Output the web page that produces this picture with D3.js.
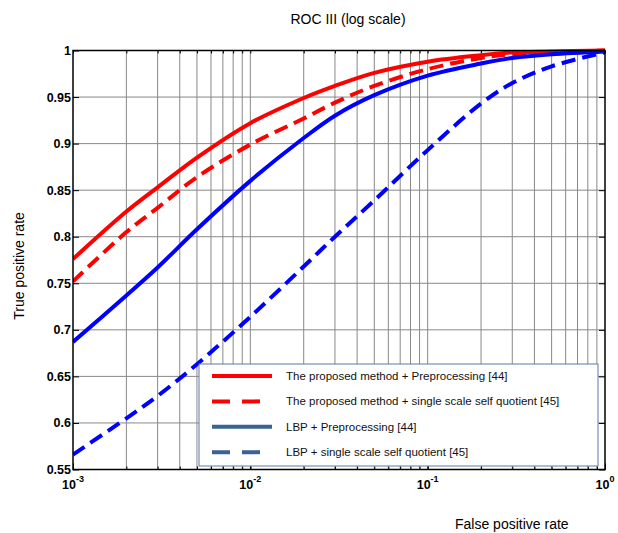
<!DOCTYPE html>
<html>
<head>
<meta charset="utf-8">
<script src="https://cdnjs.cloudflare.com/ajax/libs/d3/7.8.5/d3.min.js"></script>
<style>
  body { margin: 0; background: #fff; }
  svg { font-family: "Liberation Sans", Arial, sans-serif; }
</style>
</head>
<body>
<div id="chart"></div>
<script>
// false positive rate sample points (log axis)
var fpr = [0.001, 0.002, 0.003, 0.005, 0.01, 0.02, 0.03, 0.05, 0.1, 0.2, 0.3, 0.5, 1];
// true positive rate for each method
var proposedPre = [0.776, 0.827, 0.853, 0.885, 0.922, 0.949, 0.962, 0.976, 0.988, 0.995, 0.998, 0.999, 1.0];
var proposedSQ  = [0.752, 0.805, 0.831, 0.864, 0.899, 0.927, 0.944, 0.962, 0.980, 0.992, 0.996, 0.998, 1.0];
var lbpPre      = [0.687, 0.737, 0.767, 0.808, 0.860, 0.906, 0.930, 0.952, 0.973, 0.986, 0.992, 0.996, 0.999];
var lbpSQ       = [0.566, 0.605, 0.629, 0.663, 0.714, 0.768, 0.800, 0.839, 0.893, 0.943, 0.965, 0.983, 0.998];

var seriesNames = [
  "The proposed method + Preprocessing [44]",
  "The proposed method + single scale self quotient [45]",
  "LBP + Preprocessing [44]",
  "LBP + single scale self quotient [45]"
];
var yTicks = [0.55, 0.6, 0.65, 0.7, 0.75, 0.8, 0.85, 0.9, 0.95, 1];
var yTickLabels = ["0.55", "0.6", "0.65", "0.7", "0.75", "0.8", "0.85", "0.9", "0.95", "1"];
var xDecades = [0.001, 0.01, 0.1, 1];
var xDecadeExp = ["-3", "-2", "-1", "0"];

function drawChart() {
  var svgWidth = 618, svgHeight = 533;
  var margin = { left: 73, right: 605, top: 50.5, bottom: 469.5 };

  var svg = d3.select("#chart").append("svg")
    .attr("width", svgWidth)
    .attr("height", svgHeight);

  var x = d3.scaleLog().domain([0.001, 1]).range([margin.left, margin.right]);
  var y = d3.scaleLinear().domain([0.55, 1]).range([margin.bottom, margin.top]);

  // minor ticks 1..9 per decade
  var minorTicks = [];
  [0.001, 0.01, 0.1].forEach(function(d) {
    for (var k = 1; k < 10; k++) minorTicks.push(d * k);
  });
  minorTicks.push(1);

  // grid
  var grid = svg.append("g");
  grid.selectAll("line.vg").data(minorTicks.slice(1, -1)).enter().append("line")
    .attr("x1", d => x(d)).attr("x2", d => x(d))
    .attr("y1", margin.top).attr("y2", margin.bottom)
    .attr("stroke", "#888").attr("stroke-width", 1);
  grid.selectAll("line.hg").data(yTicks.slice(1, -1)).enter().append("line")
    .attr("x1", margin.left).attr("x2", margin.right)
    .attr("y1", d => y(d)).attr("y2", d => y(d))
    .attr("stroke", "#888").attr("stroke-width", 1);

  // axes with inward ticks
  function styleAxis(g) {
    g.select(".domain").remove();
    g.selectAll("line").attr("stroke", "#000");
    g.selectAll("text").remove();
  }
  svg.append("g").attr("transform", "translate(0," + margin.bottom + ")")
    .call(d3.axisBottom(x).tickValues(minorTicks).tickSize(-3).tickFormat(""))
    .call(styleAxis);
  svg.append("g").attr("transform", "translate(0," + margin.bottom + ")")
    .call(d3.axisBottom(x).tickValues(xDecades).tickSize(-6).tickFormat(""))
    .call(styleAxis);
  svg.append("g").attr("transform", "translate(0," + margin.top + ")")
    .call(d3.axisTop(x).tickValues(minorTicks).tickSize(-3).tickFormat(""))
    .call(styleAxis);
  svg.append("g").attr("transform", "translate(" + margin.left + ",0)")
    .call(d3.axisLeft(y).tickValues(yTicks).tickSize(-6).tickFormat(""))
    .call(styleAxis);
  svg.append("g").attr("transform", "translate(" + margin.right + ",0)")
    .call(d3.axisRight(y).tickValues(yTicks).tickSize(-6).tickFormat(""))
    .call(styleAxis);

  // lines
  svg.append("clipPath").attr("id", "clip").append("rect")
    .attr("x", margin.left).attr("y", margin.top - 3)
    .attr("width", margin.right - margin.left).attr("height", margin.bottom - margin.top + 3);

  var line = d3.line()
    .x(d => x(d[0]))
    .y(d => y(d[1]))
    .curve(d3.curveCatmullRom.alpha(0.5));

  var series = [
    { values: proposedPre, color: "#ff0000", dash: null },
    { values: proposedSQ,  color: "#ff0000", dash: "14,7" },
    { values: lbpPre,      color: "#0000ff", dash: null },
    { values: lbpSQ,       color: "#0000ff", dash: "14,7" }
  ];

  svg.append("g").attr("clip-path", "url(#clip)")
    .selectAll("path").data(series).enter().append("path")
    .attr("d", s => line(fpr.map((f, i) => [f, s.values[i]])))
    .attr("fill", "none")
    .attr("stroke", s => s.color)
    .attr("stroke-width", 4)
    .attr("stroke-dasharray", s => s.dash);

  // frame
  svg.append("rect")
    .attr("x", margin.left).attr("y", margin.top)
    .attr("width", margin.right - margin.left).attr("height", margin.bottom - margin.top)
    .attr("fill", "none").attr("stroke", "#000").attr("stroke-width", 1.5);

  // tick labels
  svg.selectAll("text.ylab").data(yTicks).enter().append("text")
    .attr("x", margin.left - 2).attr("y", d => y(d) + 4.5)
    .attr("text-anchor", "end")
    .attr("font-size", 12.5).attr("font-weight", "bold")
    .text((d, i) => yTickLabels[i]);

  var xl = svg.selectAll("text.xlab").data(xDecades).enter().append("text")
    .attr("x", d => x(d)).attr("y", 489)
    .attr("text-anchor", "middle")
    .attr("font-size", 12.5).attr("font-weight", "bold");
  xl.append("tspan").text("10");
  xl.append("tspan").attr("dy", -7).attr("font-size", 9).text((d, i) => xDecadeExp[i]);

  // legend
  var legend = svg.append("g");
  legend.append("rect")
    .attr("x", 199).attr("y", 364).attr("width", 399).attr("height", 102)
    .attr("fill", "#fff").attr("stroke", "#5b7aa6").attr("stroke-width", 1);
  var legendColors = ["#ff0000", "#ff0000", "#3d6096", "#3d6096"];
  var legendDash = [null, "18,12", null, "18,12"];
  var rows = legend.selectAll("g.row").data(seriesNames).enter().append("g")
    .attr("transform", (d, i) => "translate(0," + (376 + i * 25.4) + ")");
  rows.append("line")
    .attr("x1", 212).attr("x2", 272)
    .attr("stroke", (d, i) => legendColors[i])
    .attr("stroke-width", 4)
    .attr("stroke-dasharray", (d, i) => legendDash[i]);
  rows.append("text")
    .attr("x", 286).attr("y", 4)
    .attr("font-size", 11.5)
    .attr("fill", "#111")
    .text(d => d);

  // titles
  svg.append("text")
    .attr("x", 348).attr("y", 24)
    .attr("text-anchor", "middle").attr("font-size", 14)
    .text("ROC III (log scale)");
  svg.append("text")
    .attr("x", 455).attr("y", 529)
    .attr("font-size", 14)
    .text("False positive rate");
  svg.append("text")
    .attr("transform", "translate(24,266) rotate(-90)")
    .attr("text-anchor", "middle").attr("font-size", 14)
    .text("True positive rate");
}

drawChart();
</script>
</body>
</html>
